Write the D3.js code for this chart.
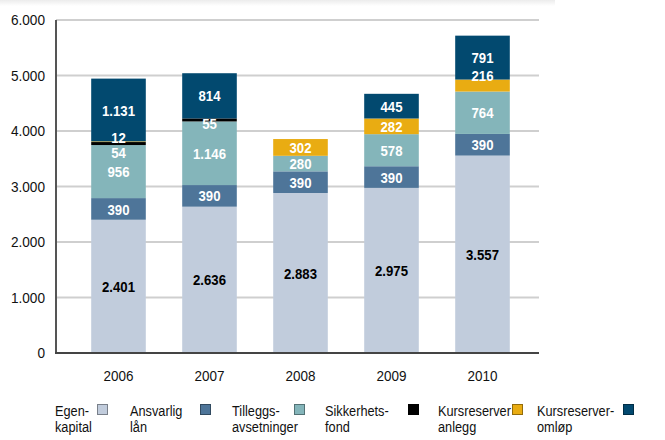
<!DOCTYPE html>
<html lang="no">
<head>
  <meta charset="UTF-8">
  <title>Kapital 2006-2010</title>
  <script src="https://d3js.org/d3.v7.min.js"></script>
  <style>
    body {
      margin: 0;
      background: #fff;
      font-family: "Liberation Sans", Arial, sans-serif;
    }
    .tick-label { font-size: 14.5px; fill: #111; }
    .bar-label { font-size: 15.5px; font-weight: bold; }
    .legend text { font-size: 14.5px; fill: #111; }
  </style>
</head>
<body>
  <svg width="665" height="440"></svg>

  <script>
    const years = ["2006", "2007", "2008", "2009", "2010"];
    const seriesNames = ["Egenkapital", "Ansvarlig lån", "Tilleggsavsetninger",
                         "Sikkerhetsfond", "Kursreserver anlegg", "Kursreserver omløp"];
    const legendLines = [["Egen-", "kapital"], ["Ansvarlig", "lån"], ["Tilleggs-", "avsetninger"],
                         ["Sikkerhets-", "fond"], ["Kursreserver", "anlegg"], ["Kursreserver-", "omløp"]];
    const colors = ["#c1ccdc", "#4e7599", "#84b5ba", "#000000", "#e9ac12", "#02496f"];

    const egenkapital = [2401, 2636, 2883, 2975, 3557];
    const ansvarligLan = [390, 390, 390, 390, 390];
    const tillegg = [956, 1146, 280, 578, 764];
    const sikkerhetsfond = [54, 55, 0, 0, 0];
    const kursAnlegg = [12, 0, 302, 282, 216];
    const kursOmlop = [1131, 814, 0, 445, 791];

    const yTicks = [0, 1000, 2000, 3000, 4000, 5000, 6000];

    const allSeries = [egenkapital, ansvarligLan, tillegg, sikkerhetsfond, kursAnlegg, kursOmlop];
    const rows = years.map((yr, i) => {
      const r = { year: yr };
      seriesNames.forEach((s, k) => r[s] = allSeries[k][i]);
      return r;
    });

    const nf = d3.formatLocale({ decimal: ",", thousands: ".", grouping: [3], currency: ["", ""] }).format(",d");

    // the original type is a narrow grotesque; squeeze Liberation Sans horizontally
    const squeeze = (px, py, sx) => `translate(${px},${py}) scale(${sx},1)`;

    const svg = d3.select("svg");

    // faint shadow at the very top
    const grad = svg.append("defs").append("linearGradient")
      .attr("id", "topShade").attr("x1", 0).attr("y1", 0).attr("x2", 0).attr("y2", 1);
    grad.append("stop").attr("offset", "0%").attr("stop-color", "#ececec");
    grad.append("stop").attr("offset", "100%").attr("stop-color", "#fff");
    svg.append("rect").attr("x", 0).attr("y", 0).attr("width", 555).attr("height", 6)
      .attr("fill", "url(#topShade)");

    const x = d3.scaleBand().domain(years).range([73, 528])
      .paddingInner(0.4).paddingOuter(0.2);
    const y = d3.scaleLinear().domain([0, 6000]).range([353, 20]);

    const plotLeft = 56, plotRight = 539;

    // gridlines
    svg.append("g").selectAll("line")
      .data(yTicks.filter(d => d > 0))
      .enter().append("line")
        .attr("x1", plotLeft).attr("x2", plotRight)
        .attr("y1", d => y(d)).attr("y2", d => y(d))
        .attr("stroke", "#cfcfcf").attr("stroke-width", 2);

    // y labels
    svg.append("g").selectAll("text")
      .data(yTicks)
      .enter().append("text")
        .attr("class", "tick-label")
        .attr("transform", d => squeeze(45, y(d), 0.94))
        .attr("dy", "0.35em")
        .attr("text-anchor", "end")
        .text(d => nf(d));

    // stacked bars
    const stack = d3.stack().keys(seriesNames);
    const stacked = stack(rows);

    const layers = svg.append("g").selectAll("g")
      .data(stacked)
      .enter().append("g")
        .attr("fill", (d, i) => colors[i]);

    layers.selectAll("rect")
      .data(d => d.filter(p => p[1] > p[0]))
      .enter().append("rect")
        .attr("x", d => x(d.data.year))
        .attr("width", x.bandwidth())
        .attr("y", d => y(d[1]))
        .attr("height", d => y(d[0]) - y(d[1]));

    // axes lines
    svg.append("line").attr("x1", plotLeft).attr("x2", plotLeft)
      .attr("y1", y(6000)).attr("y2", y(0) + 1)
      .attr("stroke", "#555").attr("stroke-width", 2);
    svg.append("line").attr("x1", plotLeft - 1).attr("x2", plotRight)
      .attr("y1", y(0)).attr("y2", y(0))
      .attr("stroke", "#444").attr("stroke-width", 2);

    // bar labels (thin slices get their label nudged off the slice)
    const labels = [];
    stacked.forEach((layer, k) => {
      layer.forEach((p, i) => {
        const v = p[1] - p[0];
        if (v <= 0) return;
        const top = y(p[1]), bottom = y(p[0]);
        let cy = (top + bottom) / 2;
        if (bottom - top < 12) {
          if (seriesNames[k] === "Sikkerhetsfond") {
            cy = kursAnlegg[i] > 0 && y(0) - y(kursAnlegg[i]) < 12 ? bottom + 7 : bottom + 2;
          } else {
            cy = top - 4;
          }
        }
        labels.push({ x: x(p.data.year) + x.bandwidth() / 2, y: cy, v: v, k: k });
      });
    });

    svg.append("g").selectAll("text")
      .data(labels)
      .enter().append("text")
        .attr("class", "bar-label")
        .attr("transform", d => squeeze(d.x, d.y, 0.85))
        .attr("dy", "0.36em")
        .attr("text-anchor", "middle")
        .attr("fill", d => d.k === 0 ? "#000" : "#fff")
        .text(d => nf(d.v));

    // x labels
    svg.append("g").selectAll("text")
      .data(years)
      .enter().append("text")
        .attr("class", "tick-label")
        .attr("transform", d => squeeze(x(d) + x.bandwidth() / 2, 381, 0.93))
        .attr("text-anchor", "middle")
        .text(d => d);

    // legend
    const legendX = [55, 130, 232, 325, 438, 537];
    const swatchX = [97, 200, 294, 408, 512, 623];
    const legend = svg.append("g").attr("class", "legend");
    seriesNames.forEach((s, i) => {
      legend.append("text").attr("transform", squeeze(legendX[i], 416, 0.88)).text(legendLines[i][0]);
      legend.append("text").attr("transform", squeeze(legendX[i], 432, 0.88)).text(legendLines[i][1]);
      legend.append("rect")
        .attr("x", swatchX[i] + 0.5).attr("y", 404.5)
        .attr("width", 10).attr("height", 10)
        .attr("fill", colors[i])
        .attr("stroke", d3.color(colors[i]).darker(1.3))
        .attr("stroke-width", 1);
    });
  </script>
</body>
</html>
